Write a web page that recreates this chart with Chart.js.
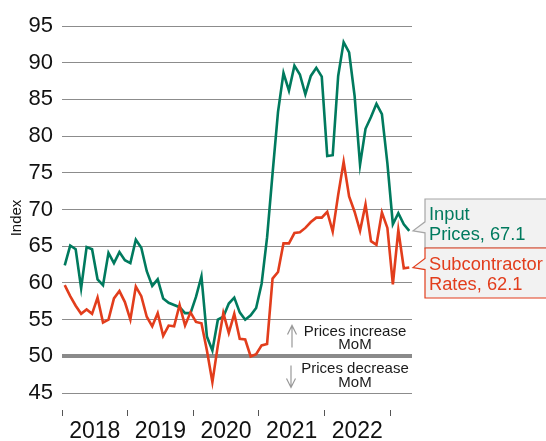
<!DOCTYPE html>
<html><head><meta charset="utf-8">
<script src="https://cdn.jsdelivr.net/npm/chart.js@4/dist/chart.umd.min.js"></script>
<style>html,body{margin:0;padding:0;background:#fff}</style>
</head><body>
<canvas id="c" width="546" height="441"></canvas>
<script>
// ---- data (monthly, Jan 2018 – Apr 2023) ----
const years = ['2018','2019','2020','2021','2022'];
const yTicks = [45,50,55,60,65,70,75,80,85,90,95];
const inputPrices = [
  62.4,65.1,64.6,59.3,64.9,64.6,60.5,59.7,64.1,62.7,64.2,63.1,
  62.7,65.9,64.8,61.6,59.6,60.5,57.9,57.3,57.0,56.7,55.9,55.9,
  58.1,60.9,52.7,50.8,55.0,55.4,57.2,58.0,56.0,55.0,55.6,56.6,
  59.9,66.2,74.9,83.3,88.6,86.2,89.6,88.4,85.7,88.2,89.3,88.1,
  77.3,77.4,88.2,92.8,91.4,85.5,76.1,81.0,82.6,84.4,83.0,76.3,
  68.0,69.5,68.0,67.1
];
const subcontractorRates = [
  59.7,58.2,56.9,55.8,56.4,55.8,58.0,54.6,55.0,57.9,58.9,57.4,
  55.0,59.5,58.2,55.4,54.1,55.9,52.8,54.2,54.1,57.0,54.2,56.0,
  54.7,54.5,50.8,46.5,51.5,55.9,53.2,55.8,52.4,52.3,50.0,50.3,
  51.5,51.7,60.6,61.5,65.4,65.4,66.8,66.9,67.5,68.3,68.9,68.9,
  69.7,67.0,72.0,76.5,71.8,69.7,67.1,70.7,65.7,65.2,69.6,67.5,
  59.8,67.2,62.0,62.1
];
const seriesNames = ['Input', 'Prices', 'Subcontractor', 'Rates'];
const noteUp = ['Prices increase', 'MoM'];
const noteDown = ['Prices decrease', 'MoM'];

const GREEN = '#007a5e';
const RED = '#e23d1c';
const FONT = "'Liberation Sans', Arial, sans-serif";

const toPoints = arr => arr.map((v, i) => ({x: i + 0.5, y: v}));
const nMonths = inputPrices.length;

function arrowLine(ctx, x, y1, y2) {
  const dir = y2 < y1 ? -1 : 1;
  ctx.beginPath();
  ctx.moveTo(x, y1); ctx.lineTo(x, y2);
  ctx.moveTo(x - 4.5, y2 - dir * 9); ctx.lineTo(x, y2); ctx.lineTo(x + 4.5, y2 - dir * 9);
  ctx.stroke();
}

function callout(ctx, left, top, bottom, tipX, tipY, stroke, fill) {
  ctx.beginPath();
  ctx.moveTo(560, top);
  ctx.lineTo(left, top);
  ctx.lineTo(left, tipY - 9);
  ctx.lineTo(tipX, tipY);
  ctx.lineTo(left, tipY + 2);
  ctx.lineTo(left, bottom);
  ctx.lineTo(560, bottom);
  ctx.closePath();
  ctx.fillStyle = fill; ctx.fill();
  ctx.strokeStyle = stroke; ctx.lineWidth = 1.2; ctx.stroke();
}

const annotations = {
  id: 'annotations',
  afterDraw(chart) {
    const ctx = chart.ctx, ys = chart.scales.y, ca = chart.chartArea;
    const gY = ys.getPixelForValue(inputPrices[nMonths - 1]);
    const rY = ys.getPixelForValue(subcontractorRates[nMonths - 1]);
    const left = ca.right + 13, tipX = ca.right + 1;
    ctx.save();
    callout(ctx, left, 199, 248, tipX, gY, '#a6a6a6', '#f2f2f2');
    callout(ctx, left, 248, 298, tipX, rY, RED, '#f2f2f2');
    ctx.font = '18.3px ' + FONT;
    ctx.textAlign = 'left'; ctx.textBaseline = 'alphabetic';
    ctx.fillStyle = GREEN;
    ctx.fillText(seriesNames[0], left + 4, 220);
    ctx.fillText(seriesNames[1] + ', ' + inputPrices[nMonths - 1].toFixed(1), left + 4, 240);
    ctx.fillStyle = RED;
    ctx.fillText(seriesNames[2], left + 4, 270);
    ctx.fillText(seriesNames[3] + ', ' + subcontractorRates[nMonths - 1].toFixed(1), left + 4, 290);

    // MoM notes around the 50 line
    const y50 = ys.getPixelForValue(50);
    ctx.font = '15px ' + FONT;
    ctx.fillStyle = '#1a1a1a';
    ctx.textAlign = 'center';
    ctx.fillText(noteUp[0], 355, y50 - 20);
    ctx.fillText(noteUp[1], 355, y50 - 7);
    ctx.fillText(noteDown[0], 355, y50 + 17);
    ctx.fillText(noteDown[1], 355, y50 + 31);
    ctx.strokeStyle = '#999'; ctx.lineWidth = 1.2;
    arrowLine(ctx, 292, y50 - 9, y50 - 31);
    arrowLine(ctx, 291, y50 + 9, y50 + 31);
    ctx.restore();
  }
};

new Chart(document.getElementById('c'), {
  type: 'line',
  data: {
    datasets: [
      {label: 'Subcontractor Rates', data: toPoints(subcontractorRates), borderColor: RED, borderWidth: 2.6, pointRadius: 0, tension: 0},
      {label: 'Input Prices', data: toPoints(inputPrices), borderColor: GREEN, borderWidth: 2.6, pointRadius: 0, tension: 0}
    ]
  },
  options: {
    responsive: false,
    animation: false,
    events: [],
    layout: {padding: {left: 0, right: 134, top: 26, bottom: 0}},
    plugins: {legend: {display: false}, tooltip: {enabled: false}},
    scales: {
      x: {
        type: 'linear', min: 0, max: nMonths,
        afterBuildTicks: s => {
          const t = [];
          for (let k = 0; k <= years.length; k++) { t.push({value: 12 * k}); if (k < years.length) t.push({value: 12 * k + 6}); }
          s.ticks = t;
        },
        afterFit: s => { s.height = 31; },
        border: {display: false},
        grid: {
          drawOnChartArea: false, drawTicks: true, tickLength: 6, tickWidth: 1,
          tickColor: c => (c.tick && c.tick.value % 12 === 0) ? '#555' : 'rgba(0,0,0,0)'
        },
        ticks: {
          autoSkip: false, maxRotation: 0, padding: 2, color: '#111',
          font: {family: FONT, size: 23},
          callback: v => (v % 12 === 6) ? years[(v - 6) / 12] : ''
        }
      },
      y: {
        min: 42.7, max: 95,
        afterBuildTicks: s => { s.ticks = yTicks.map(v => ({value: v})); },
        afterFit: s => { s.width = 62; },
        border: {display: false},
        grid: {
          drawTicks: false,
          color: c => (c.tick && c.tick.value === 50) ? '#8a8a8a' : '#8c8c8c',
          lineWidth: c => (c.tick && c.tick.value === 50) ? 4 : 1
        },
        ticks: {padding: 9, color: '#111', font: {family: FONT, size: 22}},
        title: {display: true, text: 'Index', color: '#111', font: {family: FONT, size: 15}, padding: {top: 8, bottom: 0}}
      }
    }
  },
  plugins: [annotations]
});
</script>
</body></html>
